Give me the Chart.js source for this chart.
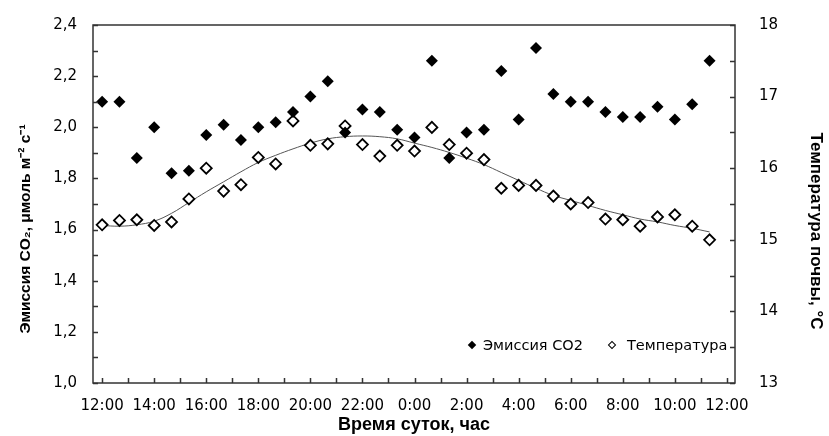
<!DOCTYPE html>
<html lang="ru">
<head>
<meta charset="utf-8">
<title>Эмиссия CO2 и температура почвы</title>
<script src="https://cdn.jsdelivr.net/npm/chart.js@4.4.1/dist/chart.umd.min.js"></script>
<style>
  body { margin: 0; background: #fff; }
  #wrap { position: relative; width: 829px; height: 436px; }
  .leg { position: absolute; font: 14.5px "DejaVu Sans", sans-serif; color: #000; line-height: 18px; white-space: nowrap; }
  .mark { position: absolute; width: 6px; height: 6px; transform: rotate(45deg); box-sizing: border-box; }
</style>
</head>
<body>
<div id="wrap">
  <canvas id="chart" width="829" height="436"></canvas>
  <div class="mark" style="left:469px; top:342px; background:#000;"></div>
  <div class="leg" style="left:483px; top:336px;">Эмиссия CO2</div>
  <div class="mark" style="left:609px; top:342px; border:1px solid #000; background:#fff;"></div>
  <div class="leg" style="left:627px; top:336px;">Температура</div>
</div>
<script>
// время измерений (каждые 40 минут, с 12:00)
const times = ["12:00","12:40","13:20","14:00","14:40","15:20","16:00","16:40","17:20",
  "18:00","18:40","19:20","20:00","20:40","21:20","22:00","22:40","23:20",
  "0:00","0:40","1:20","2:00","2:40","3:20","4:00","4:40","5:20",
  "6:00","6:40","7:20","8:00","8:40","9:20","10:00","10:40","11:20"];

// эмиссия CO2, мкмоль м-2 с-1
const co2 = [2.10, 2.10, 1.88, 2.00, 1.82, 1.83, 1.97, 2.01, 1.95,
  2.00, 2.02, 2.06, 2.12, 2.18, 1.98, 2.07, 2.06, 1.99,
  1.96, 2.26, 1.88, 1.98, 1.99, 2.22, 2.03, 2.31, 2.13,
  2.10, 2.10, 2.06, 2.04, 2.04, 2.08, 2.03, 2.09, 2.26];

// температура почвы, °C
const temp = [15.21, 15.27, 15.28, 15.20, 15.25, 15.57, 16.00, 15.68, 15.77,
  16.15, 16.06, 16.66, 16.32, 16.34, 16.59, 16.33, 16.17, 16.32,
  16.24, 16.57, 16.33, 16.21, 16.12, 15.72, 15.76, 15.76, 15.61,
  15.50, 15.52, 15.29, 15.28, 15.19, 15.32, 15.35, 15.19, 15.00];

// линия тренда температуры
const trend = [15.20, 15.19, 15.21, 15.26, 15.37, 15.52, 15.67, 15.81, 15.95,
  16.08, 16.18, 16.27, 16.35, 16.41, 16.44, 16.45, 16.44, 16.41,
  16.35, 16.29, 16.22, 16.14, 16.05, 15.94, 15.83, 15.72, 15.62,
  15.55, 15.48, 15.41, 15.35, 15.29, 15.25, 15.20, 15.16, 15.11];

// деления осей
const xTicks = [0,1,2,3,4,5,6,7,8,9,10,11,12,13,14,15,16,17,18,19,20,21,22,23,24];
const xTickLabels = ["12:00","14:00","16:00","18:00","20:00","22:00","0:00",
  "2:00","4:00","6:00","8:00","10:00","12:00"];
const yTicks = [1.0,1.1,1.2,1.3,1.4,1.5,1.6,1.7,1.8,1.9,2.0,2.1,2.2,2.3,2.4];
const yTickLabels = ["1,0","1,2","1,4","1,6","1,8","2,0","2,2","2,4"];
const y1Ticks = [13,13.5,14,14.5,15,15.5,16,16.5,17,17.5,18];
const y1TickLabels = ["13","14","15","16","17","18"];

const yTitle = "Эмиссия CO₂, μмоль м⁻² с⁻¹";
const y1Title = "Температура почвы, °C";

// часы от 12:00
function toHours(t) {
  const p = t.split(":");
  let h = Number(p[0]) + Number(p[1]) / 60 - 12;
  if (h < 0) h += 24;
  return h;
}
const hours = times.map(toHours);
const pts = (arr) => arr.map((v, i) => ({ x: hours[i], y: v }));

// рамка, внутренние засечки и подписи вертикальных осей
const frame = {
  id: "frame",
  afterDraw(chart) {
    const ctx = chart.ctx;
    const a = chart.chartArea;
    const s = chart.scales;
    ctx.save();
    ctx.strokeStyle = "#333";
    ctx.lineWidth = 1.5;
    ctx.beginPath();
    s.x.ticks.forEach(t => {
      const px = Math.round(s.x.getPixelForValue(t.value)) + 0.5;
      ctx.moveTo(px, a.bottom); ctx.lineTo(px, a.bottom - 5);
    });
    s.y.ticks.forEach(t => {
      const py = Math.round(s.y.getPixelForValue(t.value)) + 0.5;
      ctx.moveTo(a.left, py); ctx.lineTo(a.left + 5, py);
    });
    s.y1.ticks.forEach(t => {
      const py = Math.round(s.y1.getPixelForValue(t.value)) + 0.5;
      ctx.moveTo(a.right, py); ctx.lineTo(a.right - 5, py);
    });
    ctx.stroke();
    ctx.strokeRect(a.left, a.top, a.right - a.left, a.bottom - a.top);

    ctx.fillStyle = "#000";
    ctx.textAlign = "center";
    ctx.textBaseline = "middle";
    ctx.font = "bold 15.5px 'Liberation Sans'";
    ctx.save();
    ctx.translate(26, 229);
    ctx.rotate(-Math.PI / 2);
    ctx.fillText(yTitle, 0, 0);
    ctx.restore();
    ctx.font = "bold 17px 'Liberation Sans'";
    ctx.translate(816, 231);
    ctx.rotate(Math.PI / 2);
    ctx.fillText(y1Title, 0, 0);
    ctx.restore();
  }
};

const tickFont = { family: "DejaVu Sans", size: 15 };

new Chart(document.getElementById("chart"), {
  type: "scatter",
  data: {
    datasets: [
      {
        label: "Эмиссия CO2",
        data: pts(co2),
        yAxisID: "y",
        pointStyle: "rectRot",
        pointRadius: 6,
        pointBackgroundColor: "#000",
        pointBorderWidth: 0
      },
      {
        label: "Температура",
        data: pts(temp),
        yAxisID: "y1",
        pointStyle: "rectRot",
        pointRadius: 5.5,
        pointBackgroundColor: "#fff",
        pointBorderColor: "#000",
        pointBorderWidth: 1.8
      },
      {
        label: "Тренд",
        data: pts(trend),
        yAxisID: "y1",
        showLine: true,
        borderColor: "#555",
        borderWidth: 1,
        tension: 0.4,
        pointRadius: 0
      }
    ]
  },
  options: {
    responsive: false,
    animation: false,
    layout: { padding: { top: 20, left: 0, right: 0, bottom: 0 } },
    plugins: { legend: { display: false }, tooltip: { enabled: false } },
    scales: {
      x: {
        type: "linear",
        min: -0.35,
        max: 24.31,
        afterBuildTicks: s => { s.ticks = xTicks.map(v => ({ value: v })); },
        afterFit: s => { s.height = 53; },
        grid: { display: false },
        border: { display: false },
        ticks: {
          autoSkip: false,
          maxRotation: 0,
          padding: 6,
          color: "#000",
          font: tickFont,
          callback: v => (v % 2 === 0 ? xTickLabels[v / 2] : "")
        },
        title: {
          display: true,
          text: "Время суток, час",
          color: "#000",
          font: { family: "Liberation Sans", size: 18, weight: "bold" },
          padding: { top: 0, bottom: 0 }
        }
      },
      y: {
        position: "left",
        min: 1.0,
        max: 2.4,
        afterBuildTicks: s => { s.ticks = yTicks.map(v => ({ value: v })); },
        afterFit: s => { s.width = 93; },
        grid: { display: false },
        border: { display: false },
        ticks: {
          autoSkip: false,
          padding: 8,
          color: "#000",
          font: tickFont,
          callback: (v, i) => (i % 2 === 0 ? yTickLabels[i / 2] : "")
        }
      },
      y1: {
        position: "right",
        min: 13,
        max: 18,
        afterBuildTicks: s => { s.ticks = y1Ticks.map(v => ({ value: v })); },
        afterFit: s => { s.width = 94; },
        grid: { display: false },
        border: { display: false },
        ticks: {
          autoSkip: false,
          padding: 16,
          color: "#000",
          font: tickFont,
          callback: (v, i) => (i % 2 === 0 ? y1TickLabels[i / 2] : "")
        }
      }
    }
  },
  plugins: [frame]
});
</script>
</body>
</html>
